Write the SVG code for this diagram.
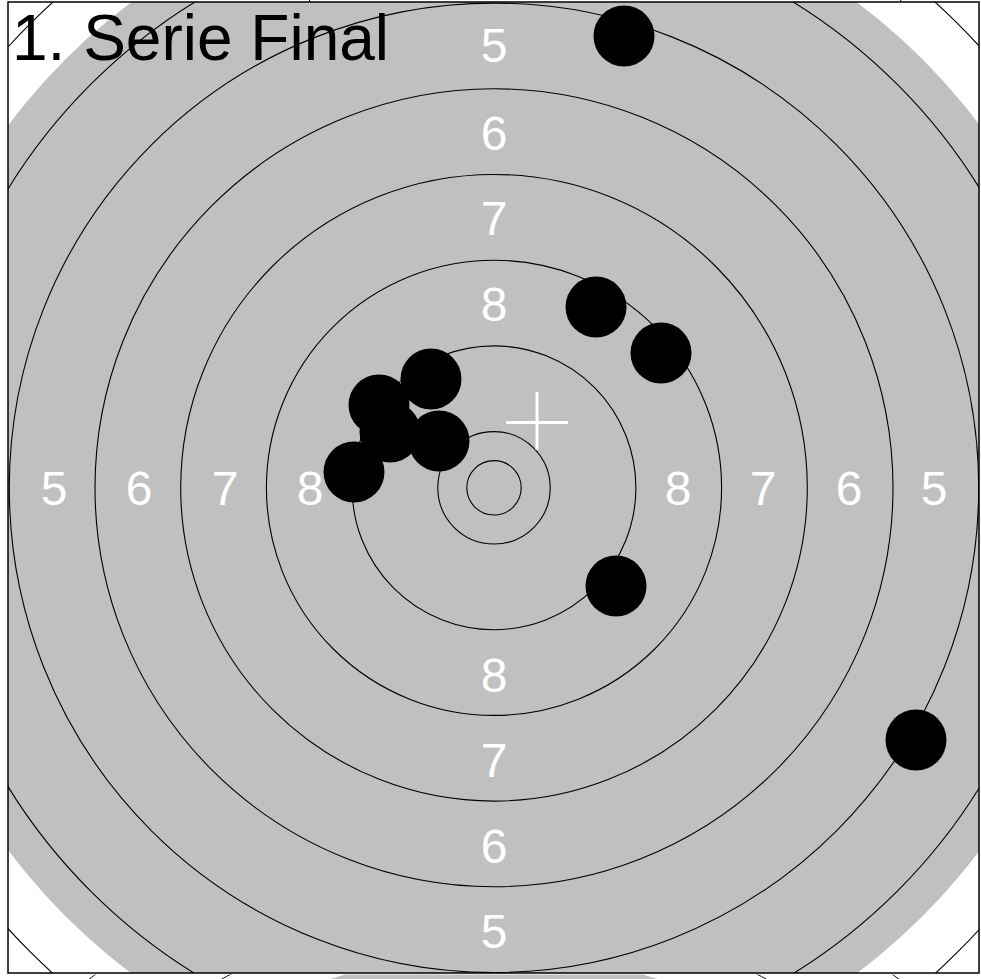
<svg xmlns="http://www.w3.org/2000/svg" width="981" height="979" viewBox="0 0 981 979">
<style>
.ring{fill:none;stroke:#000;stroke-width:1.1}
.lbl{fill:#fff;font-family:"Liberation Sans",Arial,sans-serif;font-size:48px;text-anchor:middle}
.hole{fill:#000}
.title{fill:#000;font-family:"Liberation Sans",Arial,sans-serif;font-size:64px}
</style>
<defs>
<clipPath id="box"><rect x="8" y="2" width="971" height="971"/></clipPath>
<clipPath id="below"><rect x="0" y="974.5" width="981" height="5"/></clipPath>
</defs>
<rect x="0" y="0" width="981" height="979" fill="#fff"/>
<g id="target" clip-path="url(#box)">
<circle cx="494" cy="487.8" r="606" fill="#c0c0c0"/>
<g id="rings">
<circle class="ring" cx="494" cy="487.8" r="27.2"/>
<circle class="ring" cx="494" cy="487.8" r="56.2"/>
<circle class="ring" cx="494" cy="487.8" r="141.9"/>
<circle class="ring" cx="494" cy="487.8" r="227.6"/>
<circle class="ring" cx="494" cy="487.8" r="313.3"/>
<circle class="ring" cx="494" cy="487.8" r="399"/>
<circle class="ring" cx="494" cy="487.8" r="484.7"/>
<circle class="ring" cx="494" cy="487.8" r="570.4"/>
<circle class="ring" cx="494" cy="487.8" r="656.1"/>
</g>
<g id="labels">
<text class="lbl" x="494" y="62">5</text>
<text class="lbl" x="494" y="150">6</text>
<text class="lbl" x="494" y="235">7</text>
<text class="lbl" x="494" y="321">8</text>
<text class="lbl" x="494" y="692">8</text>
<text class="lbl" x="494" y="777">7</text>
<text class="lbl" x="494" y="863">6</text>
<text class="lbl" x="494" y="948">5</text>
<text class="lbl" x="54" y="505">5</text>
<text class="lbl" x="139" y="505">6</text>
<text class="lbl" x="225" y="505">7</text>
<text class="lbl" x="310" y="505">8</text>
<text class="lbl" x="678" y="505">8</text>
<text class="lbl" x="763" y="505">7</text>
<text class="lbl" x="849" y="505">6</text>
<text class="lbl" x="934" y="505">5</text>
</g>
<g id="holes">
<circle class="hole" cx="624" cy="36" r="30.5"/>
<circle class="hole" cx="596" cy="307" r="30.5"/>
<circle class="hole" cx="661" cy="353" r="30.5"/>
<circle class="hole" cx="431" cy="379" r="30.5"/>
<circle class="hole" cx="379" cy="405" r="30.5"/>
<circle class="hole" cx="390" cy="432" r="30.5"/>
<circle class="hole" cx="439" cy="441" r="30.5"/>
<circle class="hole" cx="354" cy="472" r="30.5"/>
<circle class="hole" cx="616" cy="586" r="30.5"/>
<circle class="hole" cx="916" cy="740" r="30.5"/>
</g>
<g id="cross" stroke="#fff" stroke-width="3">
<line x1="506" y1="422.5" x2="568" y2="422.5"/>
<line x1="537" y1="392" x2="537" y2="450"/>
</g>
<text id="title" class="title" x="12" y="60">1. Serie Final</text>
</g>
<g id="next" clip-path="url(#below)">
<g transform="translate(494,1477) scale(0.865)">
<circle cx="0" cy="0" r="606" fill="#c0c0c0"/>
<circle class="ring" cx="0" cy="0" r="656.1"/>
<circle class="ring" cx="0" cy="0" r="741.8"/>
</g>
</g>
<g id="ticks" stroke="#000" stroke-width="1">
<line x1="309" y1="0" x2="311" y2="2"/>
<line x1="901" y1="0" x2="900" y2="2"/>
</g>
<rect id="frame" x="8" y="2" width="971" height="971" fill="none" stroke="#000" stroke-width="1.5"/>
</svg>
